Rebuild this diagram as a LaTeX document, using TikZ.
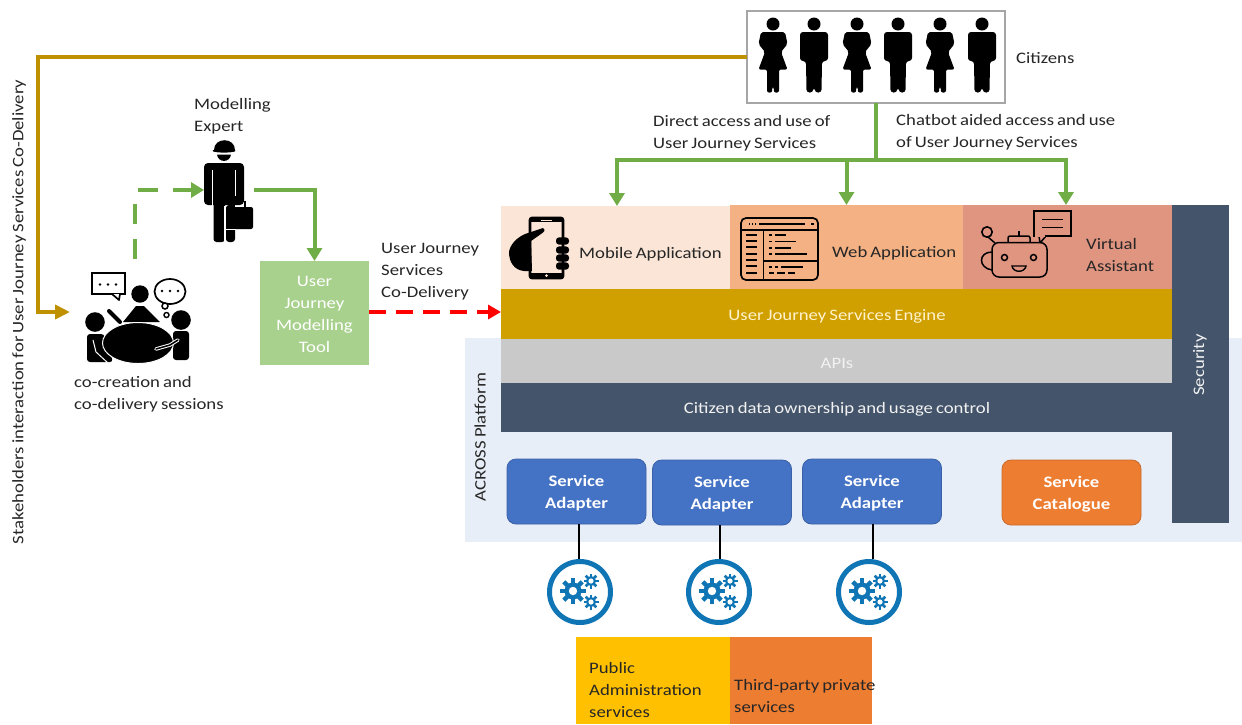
\documentclass[tikz,border=0pt]{standalone}
\usepackage{fontspec}
\setmainfont[FakeStretch=1.17,WordSpace=0.72]{Carlito}
\usetikzlibrary{arrows.meta,calc}
\definecolor{txt}{HTML}{262626}
\definecolor{gold}{HTML}{BF9000}
\definecolor{grn}{HTML}{70AD47}
\definecolor{slate}{HTML}{44546A}
\definecolor{gearblue}{HTML}{0F75B5}
\definecolor{plat}{HTML}{E8EEF7}
\definecolor{FBE5D6col}{HTML}{FBE5D6}
\definecolor{F4B1col}{HTML}{F4B183}
\definecolor{E095col}{HTML}{E09580}
\definecolor{D0A0col}{HTML}{D0A000}
\definecolor{C9col}{HTML}{C9C9C9}
\definecolor{FFF2CCcol}{HTML}{FFF2CC}
\definecolor{F2F2F2col}{HTML}{F2F2F2}
\definecolor{sablue}{HTML}{4472C4}
\definecolor{caor}{HTML}{ED7D31}
\definecolor{FFC000col}{HTML}{FFC000}
\definecolor{A9D18Ecol}{HTML}{A9D18E}
\tikzset{
  x=1pt,y=-1pt,
  base/.style={font=\fontsize{16}{22}\selectfont},
  lbl/.style={base,text=txt,inner sep=0pt,align=left,anchor=west,yshift=-1pt},
  wlbl/.style={base,text=#1,inner sep=0pt,align=center,yshift=-1pt},
  wlbl/.default=white,
  adtxt/.style={font=\fontsize{16}{22}\selectfont\bfseries,text=white,inner sep=0pt,align=center,yshift=-1.5pt},
  band/.style args={#1/#2/#3}{fill=#1,minimum width=#2,minimum height=#3,inner sep=0pt,draw=none,outer sep=0pt},
  adapter/.style={rounded corners=9pt,draw=#1!85!black,fill=#1,line width=0.8pt,minimum width=139,minimum height=65,inner sep=0pt,outer sep=0pt},
  goldline/.style={draw=gold,line width=4pt},
  grnline/.style={draw=grn,line width=4pt},
  grnhead/.style={-{Triangle[length=13pt,width=15pt]}},
  gearcircle/.style={circle,draw=gearblue,line width=5pt,fill=white,minimum size=61,inner sep=0,outer sep=2.5pt},
  womanicon/.pic={
    \fill[black] (0,24) circle (6.5);
    \fill[black,rounded corners=2pt] (-12,32) -- (12,32) -- (14.5,44) -- (8,52) -- (14.5,69.5) -- (6,69.5) -- (6,92.5) -- (0.8,92.5) -- (0.8,87) -- (-0.8,87) -- (-0.8,92.5) -- (-6,92.5) -- (-6,69.5) -- (-14.5,69.5) -- (-8,52) -- (-14.5,44) -- cycle;
  },
  manicon/.pic={
    \fill[black] (0,24) circle (6.5);
    \fill[black,rounded corners=3pt] (-14,32) -- (14,32) -- (14,61) -- (8,61) -- (7.5,92.5) -- (1,92.5) -- (0.5,87) -- (-0.5,87) -- (-1,92.5) -- (-7.5,92.5) -- (-8,61) -- (-14,61) -- cycle;
  },
  gearglyph/.pic={
    \fill[gearblue] (-7,-1) circle (8.5);
    \foreach \a in {0,45,...,315}{\fill[gearblue,rotate around={\a:(-7,-1)}] (-9.2,-14) rectangle (-4.8,-8);}
    \fill[white] (-7,-1) circle (4.2);
    \foreach \cy in {-11,10}{
      \fill[gearblue] (11,\cy) circle (5);
      \foreach \a in {0,45,...,315}{\fill[gearblue,rotate around={\a:(11,\cy)}] (9.7,\cy-7.5) rectangle (12.3,\cy-4);}
      \fill[white] (11,\cy) circle (2.6);
    }
  },
}
\begin{document}
\begin{tikzpicture}
\useasboundingbox (0,0) rectangle (1242,724);
% platform and bands
\node[band={plat/777/204}] (platform) at (853.5,440) {};
\node[band={FBE5D6col/229/83}] (mobile) at (615.5,247.5) {};
\node[band={F4B1col/233/84}] (web) at (846.5,247) {};
\node[band={E095col/209/84}] (virtual) at (1067.5,247) {};
\node[band={D0A0col/671/50}] (engine) at (836.5,314) {};
\node[band={C9col/671/44}] (apis) at (836.5,361) {};
\node[band={slate/671/49}] (citizendata) at (836.5,407.5) {};
\node[band={slate/57/318}] (security) at (1200.5,364) {};
\node[wlbl=FFF2CCcol] (enginetxt) at (837,315) {User Journey Services Engine};
\node[wlbl=F2F2F2col] (apitxt) at (837,362) {APIs};
\node[wlbl=F2F2F2col] (cdtxt) at (837,408) {Citizen data ownership and usage control};
\node[wlbl=F2F2F2col,rotate=90,yshift=1pt] (sectxt) at (1201,364) {Security};
\node[lbl,anchor=center,rotate=90,yshift=1pt] (acrosstxt) at (481,436) {ACROSS Platform};
\node[lbl] (mobiletxt) at (579,253) {Mobile Application};
\node[lbl] (webtxt) at (832,252) {Web Application};
\node[lbl] (virtualtxt) at (1086,254) {Virtual\\Assistant};
% adapters
\node[adapter=sablue] (sa1) at (576.5,491.5) {};
\node[adapter=sablue] (sa2) at (722,492.5) {};
\node[adapter=sablue] (sa3) at (872,491.5) {};
\node[adapter=caor] (cat) at (1071.5,492.5) {};
\node[adtxt] (sa1txt) at (sa1.center) {Service\\Adapter};
\node[adtxt] (sa2txt) at (sa2.center) {Service\\Adapter};
\node[adtxt] (sa3txt) at (sa3.center) {Service\\Adapter};
\node[adtxt] (cattxt) at (cat.center) {Service\\Catalogue};
% gears
\node[gearcircle] (g1) at (580,592) {};
\node[gearcircle] (g2) at (719,592) {};
\node[gearcircle] (g3) at (869,592) {};
\pic at (g1.center) {gearglyph};
\pic at (g2.center) {gearglyph};
\pic at (g3.center) {gearglyph};
\draw[black,line width=2.6pt] (579,0 |- sa1.south) -- (579,0 |- g1.north);
\draw[black,line width=2.6pt] (720,0 |- sa2.south) -- (720,0 |- g2.north);
\draw[black,line width=2.6pt] (873,0 |- sa3.south) -- (873,0 |- g3.north);
% bottom services
\node[band={FFC000col/154/87}] (pub) at (653,680.5) {};
\node[band={caor/142/87}] (third) at (801,680.5) {};
\node[lbl] (pubtxt) at (589,689) {Public\\Administration\\services};
\node[lbl] (thirdtxt) at (734,695) {Third-party private\\services};
% citizens
\node[draw=black!35,line width=1.2pt,fill=white,minimum width=258,minimum height=92,inner sep=0,outer sep=0] (citizens) at (876,57) {};
\pic at (773,0) {womanicon};
\pic at (814,0) {manicon};
\pic at (857,0) {womanicon};
\pic at (898,0) {manicon};
\pic at (940,0) {womanicon};
\pic at (982,0) {manicon};
\node[lbl] (citlbl) at (1016,57) {Citizens};
\node[lbl] (direct) at (653,132) {Direct access and use of\\User Journey Services};
\node[lbl] (chatbot) at (896,131) {Chatbot aided access and use\\of User Journey  Services};
\node[lbl] (expertlbl) at (194,115) {Modelling\\Expert};
\node[lbl] (ujlbl) at (381,271) {User Journey\\Services\\Co-Delivery};
\node[lbl] (colbl) at (74,393) {co-creation and\\co-delivery sessions};
\node[lbl,anchor=center,rotate=90,yshift=1pt] (stake) at (20,311) {Stakeholders interaction for User Journey Services Co-Delivery};
% tool
\node[band={A9D18Ecol/109/104}] (tool) at (314.5,313) {};
\node[wlbl=white] (tooltxt) at (314.5,313.5) {User\\Journey\\Modelling\\Tool};
% expert icon
\node[minimum width=50,minimum height=102,inner sep=0,outer sep=0] (expert) at (229,191) {};
\fill[black] (213.5,150) .. controls (213.5,136.5) and (234.5,136.5) .. (234.5,150) -- cycle;
\fill[black] (224,150.8) ellipse (11.5 and 1.8);
\fill[black] (217,154.5) .. controls (218,163) and (230,163) .. (231,154.5) -- cycle;
\fill[black,rounded corners=4pt] (204,163) rectangle (244,205);
\fill[black] (214,170) rectangle (234,205);
\fill[black,rounded corners=3pt] (213.5,200) rectangle (225,242);
\fill[black,rounded corners=3pt] (226,205) rectangle (235,242);
\draw[white,line width=0.9pt] (212.5,170) -- (212.5,206);
\draw[white,line width=0.9pt] (235.5,170) -- (235.5,196);
\draw[white,line width=2pt] (225,206) -- (225,242);
\fill[white] (204,206) rectangle (213,210);
\fill[black,rounded corners=2pt] (226,207) rectangle (253,229);
\draw[black,line width=1.5pt] (234,207) -- (234,201.5) -- (245,201.5) -- (245,207);
\draw[white,line width=1pt] (226,229.5) -- (236,229.5);
% meeting icon
\node[minimum width=120,minimum height=94,inner sep=0,outer sep=0] (meeting) at (130,318) {};
\draw[black,line width=1.7pt,fill=white] (92,273) rectangle (125,294) ;
\draw[black,line width=1.7pt,fill=white,line join=round] (112,294) -- (119,300) -- (120,294);
\fill[black] (100,284.5) circle (1.3) (108,284.5) circle (1.3) (116,284.5) circle (1.3);
\fill[black] (140,294) circle (8.7);
\fill[black] (123,322) -- (136,306) -- (144,306) -- (160,322) -- cycle;
\draw[black,line width=4pt,line cap=round] (109,311) -- (120,322);
\draw[black,line width=1.7pt,fill=white] (170,291.5) ellipse (15.5 and 12.5);
\draw[black,line width=1.5pt,fill=white] (165,306) circle (3);
\fill[black] (162,291) circle (1.3) (170,291) circle (1.3) (178,291) circle (1.3);
\draw[black,line width=1.4pt] (166.5,315) circle (2.5);
\fill[black] (95,322) circle (9.8);
\fill[black] (181,320) circle (9.8);
\fill[black,rounded corners=3pt] (87,362) -- (87,334) -- (104,334) -- (113,362) -- cycle;
\fill[black,rounded corners=3pt] (173,360) -- (173,331) -- (189,331) -- (189,360) -- cycle;
\fill[black,draw=white,line width=1pt] (138,343) ellipse (35.5 and 20.5);
\draw[white,line width=1pt] (93,340) -- (96,352) -- (108,363);
\draw[white,line width=3.5pt,line cap=round] (178,340) -- (170,345) -- (156,349);
\draw[black,line width=1.5pt,line cap=round] (178,340) -- (170,345) -- (156,349);
% phone icon
\node[minimum width=60,minimum height=62,inner sep=0,outer sep=0] (phoneicon) at (539,248) {};
\draw[black,line width=2.6pt,rounded corners=2pt] (530,218) rectangle (563,278);
\fill[black] (530,218) rectangle (563,222);
\fill[black] (530,273) rectangle (563,279);
\draw[FBE5D6col,line width=0.9pt] (541,220) -- (552,220);
\fill[FBE5D6col] (546.5,275.5) circle (1.5);
\fill[black] (543,228) .. controls (546,230) and (544,232) .. (541,234) -- (531,241) -- (532,271) -- (524,271) .. controls (514,270) and (509,262) .. (509,252) .. controls (510,245) and (516,238) .. (525,234) -- cycle;
\foreach \fy in {241,250,258,266}{\fill[black,rounded corners=3pt] (556,\fy-3.6) rectangle (569,\fy+3.6);}
% web icon
\node[minimum width=77,minimum height=63,inner sep=0,outer sep=0] (webicon) at (779.5,248.5) {};
\draw[black,line width=1.7pt,rounded corners=5pt] (741,218) rectangle (818,280);
\draw[black,line width=1.3pt] (741,230) -- (818,230) (763.5,230) -- (763.5,280) (763.5,261) -- (818,261);
\draw[black,line width=1.7pt] (749,224) -- (750,224) (752,224) -- (753,224) (755,224) -- (756,224) (759,224) -- (805,224) (811,224) -- (814,224);
\foreach \ly in {235,241,247,254,260,266,273}{\draw[black,line width=1.6pt] (746,\ly) -- (757,\ly);}
\draw[black,line width=1.6pt] (769,235) -- (772,235) (775,235) -- (786,235) (769,241.5) -- (772,241.5) (775,241.5) -- (796,241.5) (769,248) -- (772,248) (775,248) -- (791,248) (769,254) -- (772,254) (775,254) -- (807,254) (769,267) -- (772,267) (775,267) -- (778,267) (781,267) -- (803,267) (769,273) -- (774,273) (777,273) -- (785,273) (788,273) -- (795,273);
% robot icon
\node[minimum width=85,minimum height=66,inner sep=0,outer sep=0] (roboticon) at (1028,244) {};
\draw[black,line width=1.5pt] (1034,211) rectangle (1071,236);
\draw[black,line width=1.5pt] (1034,236) -- (1039,236) -- (1040,243) (1046,236) -- (1040,243);
\fill[E095col] (1034.9,235) rectangle (1045,237);
\draw[black,line width=1.5pt] (1042,219.5) -- (1063,219.5) (1042,227.5) -- (1063,227.5);
\draw[black,line width=1.6pt] (987,232) circle (5.2);
\draw[black,line width=1.5pt,rounded corners=7pt] (992,242.5) rectangle (1047,277);
\draw[black,line width=1.5pt] (988,237) -- (995,243);
\draw[black,line width=1.5pt] (992,252) .. controls (978,252) and (978,268) .. (992,270);
\draw[black,line width=1.5pt,rounded corners=2pt] (1008,242) -- (1008,236) -- (1030,236) -- (1030,242);
\draw[black,line width=1.5pt] (1019,231) -- (1019,236);
\draw[black,line width=1.5pt] (1004.5,257.5) circle (3);
\draw[black,line width=1.5pt] (1033.5,257.5) circle (3);
\draw[black,line width=1.4pt] (1012,266) -- (1026,266) .. controls (1025,273) and (1013,273) .. (1012,266) -- cycle;
% connectors
\draw[goldline,-{Triangle[length=15pt,width=14pt]}] (citizens.west) -- (38,0 |- citizens.west) -- (38,312) -- (meeting.west |- 0,312);
\draw[grnline] (citizens.south) -- ++(0,57) coordinate (hub);
\draw[grnline,grnhead] (hub) -| ([xshift=1.5pt]mobile.north);
\draw[grnline,grnhead] (hub) -| (web.north);
\draw[grnline,grnhead] (hub) -| ([xshift=-1.5pt]virtual.north);
\draw[grnline,dash pattern=on 20pt off 15pt] (135,259) -- (135,195);
\draw[grnline,grnhead,dash pattern=on 20pt off 15pt] (138,190) -- (expert.west |- 0,190);
\draw[grnline,grnhead] (expert.east |- 0,190) -| (tool.north);
\draw[draw=red,line width=4pt,dash pattern=on 17pt off 10pt,-{Triangle[length=13pt,width=14pt]}] (tool.east |- 0,312) -- (engine.west |- 0,312);
\end{tikzpicture}
\end{document}
